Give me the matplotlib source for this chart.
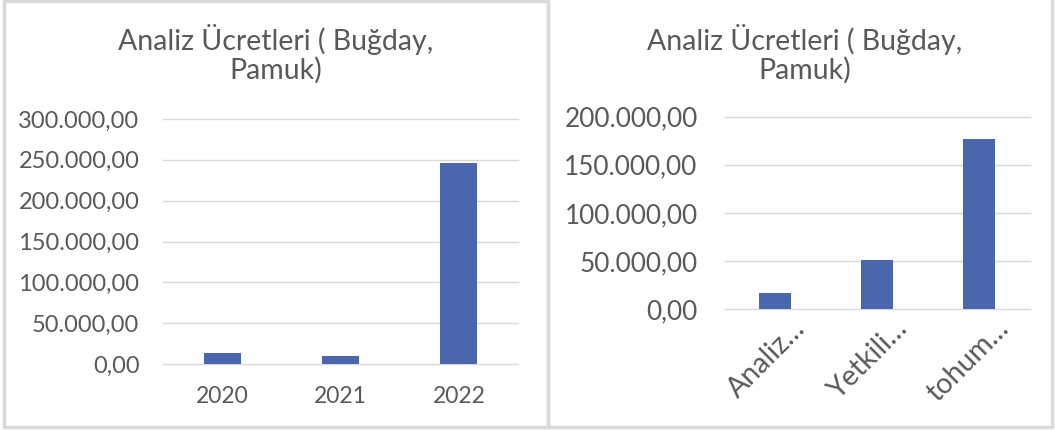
import matplotlib
matplotlib.use('Agg')
import matplotlib.pyplot as plt
from matplotlib.patches import Rectangle
import matplotlib.transforms as mtransforms

# data
left_cats = ['2020', '2021', '2022']
left_vals = [13400, 10100, 245700]
left_ticks = [0, 50000, 100000, 150000, 200000, 250000, 300000]

right_cats = ['Analiz…', 'Yetkili…', 'tohum…']
right_vals = [16300, 51000, 176400]
right_ticks = [0, 50000, 100000, 150000, 200000]

title = 'Analiz Ücretleri ( Buğday,\nPamuk)'

TXT = '#595959'
GRID = '#d9d9d9'
BAR = '#4a66ac'
BORDER = '#dadada'

plt.rcParams['font.family'] = ['Lato', 'DejaVu Sans']


def tr_fmt(v):
    s = f'{v:,.2f}'
    return s.replace(',', 'X').replace('.', ',').replace('X', '.')


W, H = 1055, 430
fig = plt.figure(figsize=(W / 100, H / 100), dpi=100)
fig.patch.set_facecolor('white')

# panel borders (pixel coords -> figure fractions)
def px_rect(x0, y0, x1, y1):
    return Rectangle((x0 / W, 1 - y1 / H), (x1 - x0) / W, (y1 - y0) / H,
                     transform=fig.transFigure, fill=False, edgecolor=BORDER,
                     lw=2.5, zorder=0)

fig.patches.append(px_rect(4, 1, 548, 427))
fig.patches.append(px_rect(548, -5, 1052, 427))


def make_axes(x0, x1, y_top, y_bot):
    return fig.add_axes([x0 / W, 1 - y_bot / H, (x1 - x0) / W, (y_bot - y_top) / H])


def style(ax, cats, vals, ticks, tick_fs):
    ax.bar(range(len(cats)), vals, width=0.31, color=BAR, zorder=3)
    ax.set_xlim(-0.5, len(cats) - 0.5)
    ax.set_ylim(0, ticks[-1])
    ax.set_yticks(ticks)
    ax.set_yticklabels([tr_fmt(t) for t in ticks], color=TXT, fontsize=tick_fs)
    for t in ticks:
        ax.axhline(t, color=GRID, lw=1.0, zorder=1, clip_on=False)
    for s in ax.spines.values():
        s.set_visible(False)
    ax.tick_params(length=0)
    ax.set_xticks(range(len(cats)))


axL = make_axes(163, 518, 119, 364)
style(axL, left_cats, left_vals, left_ticks, 17)
axL.set_xticklabels(left_cats, color=TXT, fontsize=16.5)
axL.tick_params(axis='x', pad=16)
axL.tick_params(axis='y', pad=17)

axR = make_axes(724, 1030, 116.7, 309)
style(axR, right_cats, right_vals, right_ticks, 18.8)
axR.tick_params(axis='y', pad=19)
labs = axR.set_xticklabels(right_cats, color=TXT, fontsize=20.5, rotation=45,
                           ha='right', va='top', rotation_mode='anchor')
off = mtransforms.ScaledTranslation(17 / 100, -1 / 100, fig.dpi_scale_trans)
for lab in labs:
    lab.set_transform(lab.get_transform() + off)

fig.text(276 / W, 1 - 54 / H, title, ha='center', va='center', color=TXT,
         fontsize=20.5, linespacing=1.08)
fig.text(805 / W, 1 - 54 / H, title, ha='center', va='center', color=TXT,
         fontsize=20.5, linespacing=1.08)

fig.savefig('out.png', dpi=100, facecolor='white')
